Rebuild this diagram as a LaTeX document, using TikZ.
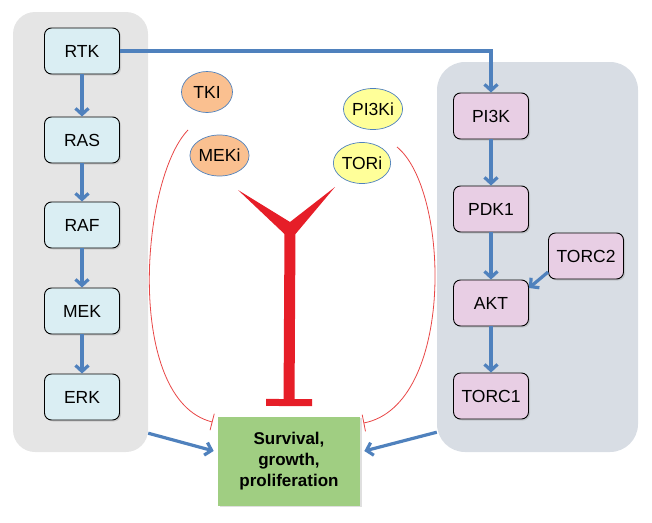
\documentclass[tikz,border=0pt]{standalone}
\usepackage{fontspec}
\setmainfont{Liberation Sans}
\usetikzlibrary{arrows.meta,shapes.geometric,shadows}

\definecolor{flowblue}{RGB}{79,129,189}
\definecolor{inhred}{RGB}{230,30,40}
\definecolor{arcred}{RGB}{232,70,70}
\definecolor{graypanel}{RGB}{229,229,229}
\definecolor{bluepanel}{RGB}{216,221,228}
\definecolor{cyanbox}{RGB}{218,238,243}
\definecolor{pinkbox}{RGB}{232,206,228}
\definecolor{greenbox}{RGB}{160,206,130}
\definecolor{orangepill}{RGB}{250,192,144}
\definecolor{yellowpill}{RGB}{255,255,153}

\begin{document}
\begin{tikzpicture}[x=1pt,y=-1pt,
    flow/.style={draw=flowblue, line width=3.2pt, -{Straight Barb[length=6pt,width=13pt]}},
    block/.style={draw, line width=0.9pt, rounded corners=7pt, minimum width=75pt,
      minimum height=46pt, font=\fontsize{17.5}{21}\selectfont,
      drop shadow={opacity=0.25, shadow xshift=1.5pt, shadow yshift=-1.5pt}},
    pill/.style={ellipse, draw=flowblue, line width=0.7pt, inner sep=0pt,
      minimum width=51pt, minimum height=41pt, font=\fontsize{17.5}{21}\selectfont}]

  \useasboundingbox (0,0) rectangle (652,522);

  % background panels
  \node[fill=graypanel, rounded corners=22pt, minimum width=135pt, minimum height=440pt]
    (raspanel) at (80.5,232) {};
  \node[fill=bluepanel, rounded corners=28pt, minimum width=201pt, minimum height=390pt]
    (pipanel) at (537.5,257) {};

  \begin{scope}[every node/.style={block, fill=cyanbox}]
    \node (rtk) at (82,51)  {RTK};
    \node (ras) at (82,140) {RAS};
    \node (raf) at (82,225) {RAF};
    \node (mek) at (82,311) {MEK};
    \node (erk) at (82,397) {ERK};
  \end{scope}

  \begin{scope}[every node/.style={block, fill=pinkbox}]
    \node (pi3k)  at (491,116) {PI3K};
    \node (pdk1)  at (491,209) {PDK1};
    \node (torc2) at (586,256) {TORC2};
    \node (akt)   at (491,303) {AKT};
    \node (torc1) at (491,396) {TORC1};
  \end{scope}

  \node[block, fill=greenbox, draw=none, rounded corners=0pt, minimum width=142pt,
    minimum height=89pt, align=center, font=\fontsize{17}{21}\selectfont\bfseries]
    (green) at (289,461) {Survival,\\growth,\\proliferation};

  \node[pill, fill=orangepill] (tki)   at (207,92)  {TKI};
  \node[pill, fill=orangepill] (meki)  at (219.5,155.5) {MEKi};
  \node[pill, fill=yellowpill] (pi3ki) at (373,109) {PI3Ki};
  \node[pill, fill=yellowpill] (tori)  at (362,163) {TORi};

  % signalling
  \path[flow] (rtk) edge (ras) (ras) edge (raf) (raf) edge (mek) (mek) edge (erk);
  \path[flow] (pi3k) edge (pdk1) (pdk1) edge (akt) (akt) edge (torc1);
  \draw[flow] (rtk.east) -| (pi3k.north);
  \draw[flow] ([yshift=-16pt]torc2.west) -- ([yshift=15pt]akt.east);
  \draw[flow, shorten >=4pt] ([yshift=19pt]raspanel.south east) -- ([yshift=9pt]green.west);
  \draw[flow, shorten >=4pt] ([yshift=20pt]pipanel.south west) -- ([yshift=9pt]green.east);

  % inhibition
  \coordinate (fork) at (290,230);
  \coordinate (tkiarc) at (188,130);
  \coordinate (torarc) at (397,147);
  \fill[inhred] (238,190) -- (290,222) -- (335,187) -- (295.5,234) -- (284.5,234) -- cycle;
  \draw[inhred, line width=11pt, -{Bar[width=46pt,line width=7pt]}]
    (fork) -- ([yshift=10pt]green.north);
  \draw[arcred, line width=0.8pt, -{Bar[width=17pt,line width=0.8pt]}]
    (tkiarc) .. controls (140,180) and (125,400) .. ([xshift=-5pt,yshift=-6pt]green.north west);
  \draw[arcred, line width=0.8pt, -{Bar[width=17pt,line width=0.8pt]}]
    (torarc) .. controls (450,190) and (455,405) .. ([xshift=3pt,yshift=-7pt]green.north east);

\end{tikzpicture}
\end{document}
